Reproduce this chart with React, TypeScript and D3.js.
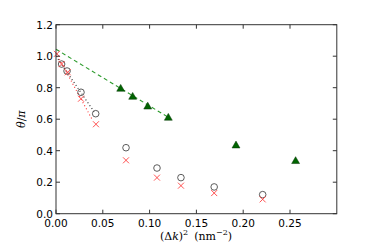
import React from "react";
import * as d3 from "d3";

const circleX = [0.006, 0.0118, 0.0267, 0.0424, 0.0748, 0.1079, 0.1335, 0.169, 0.2208];
const circleY = [0.95, 0.906, 0.771, 0.635, 0.419, 0.29, 0.229, 0.17, 0.121];
const crossX = [0.001, 0.006, 0.0125, 0.0267, 0.0427, 0.0748, 0.1079, 0.1335, 0.169, 0.2208];
const crossY = [1.015, 0.95, 0.898, 0.73, 0.568, 0.339, 0.229, 0.178, 0.131, 0.091];
const triX = [0.0691, 0.0819, 0.098, 0.12, 0.1923, 0.256];
const triY = [0.792, 0.741, 0.679, 0.608, 0.432, 0.333];
const greenFitX = [0, 0.12];
const greenFitY = [1.044, 0.612];
const blackFitX = [0, 0.0406];
const blackFitY = [1.0, 0.648];
const redFitX = [0, 0.038];
const redFitY = [1.02, 0.605];
const xTicks = [0, 0.05, 0.1, 0.15, 0.2, 0.25];
const yTicks = [0, 0.2, 0.4, 0.6, 0.8, 1.0, 1.2];

export default function App() {
  const W = 374, H = 252;
  const L = 56, R = 336.8, T = 24.7, B = 213.7;
  const x = d3.scaleLinear().domain([0, 0.3]).range([L, R]);
  const y = d3.scaleLinear().domain([0, 1.2]).range([B, T]);
  const line = d3.line<[number, number]>().x(d => x(d[0])).y(d => y(d[1]));
  const font = "'DejaVu Sans', sans-serif";
  const tri = d3.symbol().type(d3.symbolTriangle).size(27)();
  return (
    <svg width={W} height={H} style={{ position: "absolute", left: 0, top: 0 }}>
      <rect width={W} height={H} fill="#fff" />
      <path d={line(greenFitX.map((v, i) => [v, greenFitY[i]]) as any) || ""} fill="none" stroke="#2a9a2a" strokeWidth={1.1} strokeDasharray="4,3" />
      <path d={line(blackFitX.map((v, i) => [v, blackFitY[i]]) as any) || ""} fill="none" stroke="#222" strokeWidth={1.1} strokeDasharray="1,2.5" />
      <path d={line(redFitX.map((v, i) => [v, redFitY[i]]) as any) || ""} fill="none" stroke="#ff3030" strokeWidth={1.1} strokeDasharray="1,2.5" />
      {circleX.map((v, i) => (
        <circle key={"c" + i} cx={x(v)} cy={y(circleY[i])} r={3.3} fill="none" stroke="#333" strokeWidth={0.8} />
      ))}
      {crossX.map((v, i) => {
        const cx = x(v), cy = y(crossY[i]), s = 3;
        return (
          <g key={"x" + i} stroke="#ff4040" strokeWidth={0.9}>
            <line x1={cx - s} y1={cy - s} x2={cx + s} y2={cy + s} />
            <line x1={cx - s} y1={cy + s} x2={cx + s} y2={cy - s} />
          </g>
        );
      })}
      {triX.map((v, i) => (
        <path key={"t" + i} d={tri || ""} transform={`translate(${x(v)},${y(triY[i])})`} fill="#006400" stroke="#003300" strokeWidth={0.5} />
      ))}
      <rect x={L} y={T} width={R - L} height={B - T} fill="none" stroke="#333" strokeWidth={1} />
      {xTicks.map(t => (
        <g key={"xt" + t}>
          <line x1={x(t)} x2={x(t)} y1={B} y2={B - 4} stroke="#333" />
          <line x1={x(t)} x2={x(t)} y1={T} y2={T + 4} stroke="#333" />
          <text x={x(t)} y={B + 13} textAnchor="middle" fontFamily={font} fontSize={10.5} fill="#000">{t.toFixed(2)}</text>
        </g>
      ))}
      {yTicks.map(t => (
        <g key={"yt" + t}>
          <line x1={L} x2={L + 4} y1={y(t)} y2={y(t)} stroke="#333" />
          <line x1={R} x2={R - 4} y1={y(t)} y2={y(t)} stroke="#333" />
          <text x={L - 3} y={y(t) + 4} textAnchor="end" fontFamily={font} fontSize={10.5} fill="#000">{t.toFixed(1)}</text>
        </g>
      ))}
      <text transform={`translate(25,${(T + B) / 2}) rotate(-90)`} textAnchor="middle" fontFamily="'DejaVu Serif', serif" fontSize={11} fill="#000">
        <tspan fontStyle="italic">θ</tspan>/<tspan fontStyle="italic">π</tspan>
      </text>
      <text x={196} y={240} textAnchor="middle" fontFamily="'DejaVu Serif', serif" fontSize={11} fill="#000">
        (Δ<tspan fontStyle="italic">k</tspan>)<tspan dy={-5} fontSize={8}>2</tspan>
        <tspan dy={5} dx={6}>(nm</tspan><tspan dy={-5} fontSize={8}>−2</tspan><tspan dy={5}>)</tspan>
      </text>
    </svg>
  );
}
